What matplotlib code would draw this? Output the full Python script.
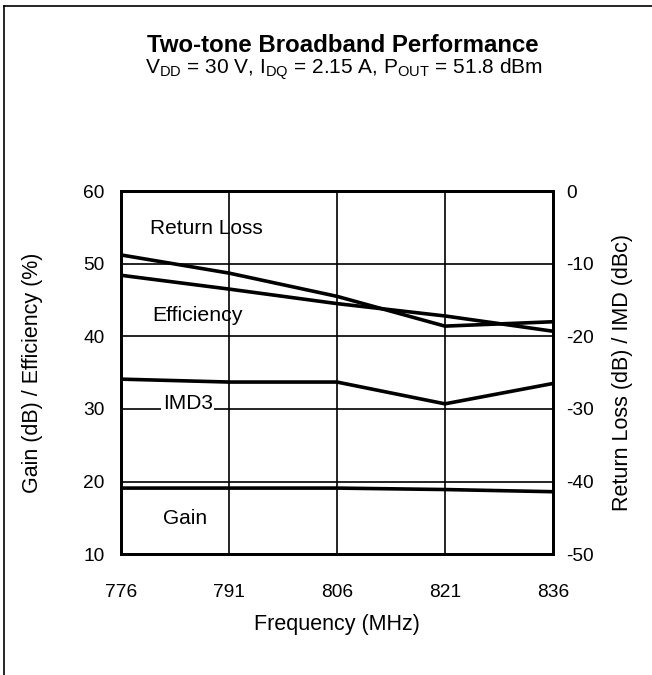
import matplotlib
matplotlib.use("Agg")
import matplotlib.pyplot as plt
from matplotlib.lines import Line2D

plt.rcParams["font.family"] = ["Liberation Sans", "DejaVu Sans"]
plt.rcParams["mathtext.fontset"] = "custom"
plt.rcParams["mathtext.rm"] = "Liberation Sans"
plt.rcParams["axes.unicode_minus"] = False

# data
freq = [776, 791, 806, 821, 836]
gain = [19.1, 19.1, 19.1, 18.9, 18.6]            # dB, left axis
efficiency = [48.4, 46.5, 44.5, 42.8, 40.7]      # %, left axis
return_loss = [-8.8, -11.3, -14.5, -18.6, -18.0]  # dB, right axis
imd3 = [-25.9, -26.3, -26.3, -29.3, -26.5]        # dBc, right axis

left_ticks = [10, 20, 30, 40, 50, 60]
right_ticks = [-50, -40, -30, -20, -10, 0]

fig = plt.figure(figsize=(6.52, 6.75), dpi=100)
ax = fig.add_axes([0.1856, 0.179, 0.6624, 0.538])
ax2 = ax.twinx()

lw_data = 2.6
ax.plot(freq, gain, color="black", lw=lw_data, zorder=5)
ax.plot(freq, efficiency, color="black", lw=lw_data, zorder=5)
ax2.plot(freq, return_loss, color="black", lw=lw_data, zorder=5)
ax2.plot(freq, imd3, color="black", lw=lw_data, zorder=5)

ax.set_xlim(776, 836)
ax.set_ylim(10, 60)
ax2.set_ylim(-50, 0)
ax.set_xticks(freq)
ax.set_yticks(left_ticks)
ax2.set_yticks(right_ticks)

ax.grid(True, color="black", lw=1.2)
for a in (ax, ax2):
    for s in a.spines.values():
        s.set_linewidth(2.0)
ax.tick_params(axis="both", length=0, labelsize=13.8)
ax.tick_params(axis="y", pad=12)
ax.tick_params(axis="x", pad=21.5)
ax2.tick_params(axis="y", length=0, labelsize=13.8, pad=9.5)

ax.set_xlabel("Frequency (MHz)", fontsize=15.5, labelpad=9.5)
ax.set_ylabel("Gain (dB) / Efficiency (%)", fontsize=15.5)
ax2.set_ylabel("Return Loss (dB) / IMD (dBc)", fontsize=15.5)
ax.yaxis.set_label_coords(-0.18, 0.5)
ax2.yaxis.set_label_coords(1.138, 0.5)

# in-plot labels
ax.text(780, 54.9, "Return Loss", fontsize=15, va="center", ha="left")
ax.text(780.3, 42.8, "Efficiency", fontsize=15.3, va="center", ha="left")
ax.text(781.8, 30.8, "IMD3", fontsize=15, va="center", ha="left", zorder=6,
        bbox=dict(facecolor="white", edgecolor="none", pad=1.0))
ax.text(781.8, 14.9, "Gain", fontsize=15, va="center", ha="left")

fig.text(0.526, 0.933, "Two-tone Broadband Performance", fontsize=17.3,
         fontweight="bold", ha="center", va="center")
fig.text(0.527, 0.898,
         r"V$_{\mathrm{DD}}$ = 30 V, I$_{\mathrm{DQ}}$ = 2.15 A, P$_{\mathrm{OUT}}$ = 51.8 dBm",
         fontsize=15, ha="center", va="center")

# frame around the figure (top and left edges)
fig.add_artist(Line2D([0.006, 1.0], [0.991, 0.991], color="black", lw=1.2,
                      transform=fig.transFigure))
fig.add_artist(Line2D([0.006, 0.006], [0.0, 0.991], color="black", lw=1.2,
                      transform=fig.transFigure))

fig.savefig("out.png", dpi=100)
